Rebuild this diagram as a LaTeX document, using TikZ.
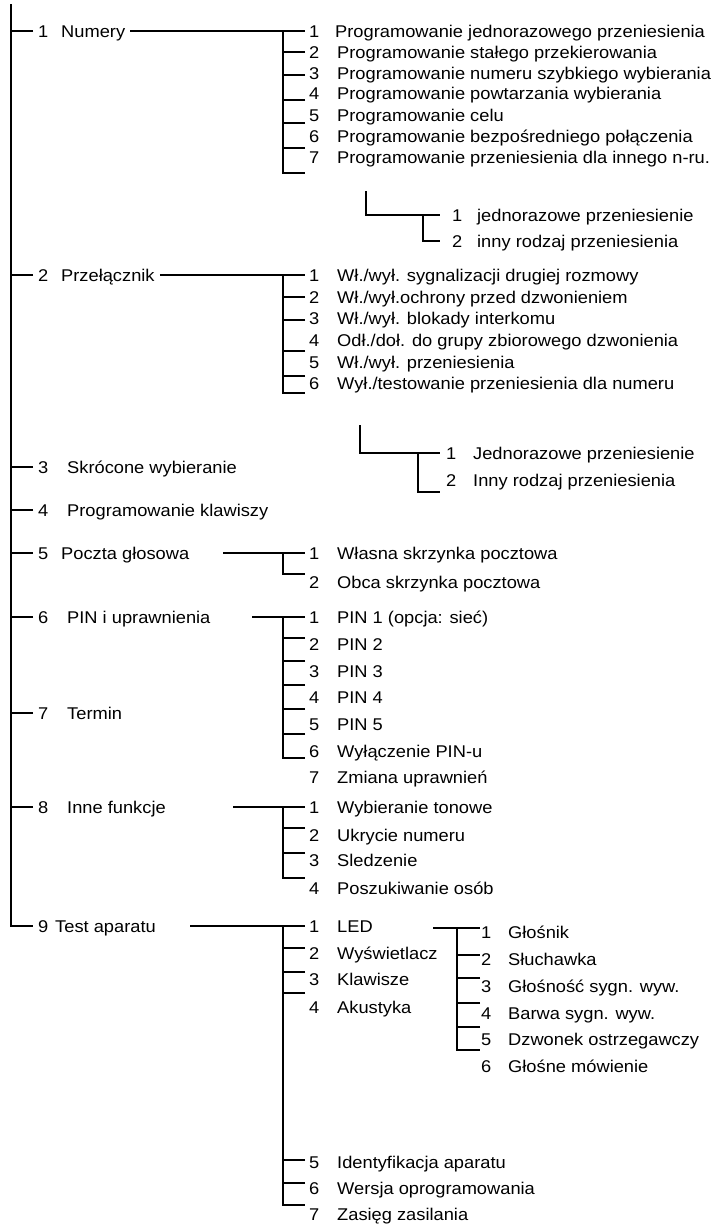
\documentclass[tikz,border=0pt]{standalone}
\usepackage{fontspec}
\setmainfont{Liberation Sans}[FakeStretch=1.075]
\usepackage{tikz}

\tikzset{
  lbl/.style={anchor=west, inner xsep=4pt, inner ysep=0pt, text height=12pt, text depth=0pt,
    font=\fontsize{17pt}{20pt}\selectfont},
  tree/.style={line width=1.8pt}
}

\begin{document}
\begin{tikzpicture}[x=1pt,y=-1pt]
    \useasboundingbox (0,0) rectangle (718,1224);

    % main menu
    \coordinate (top) at (11,4);
    \node[lbl,inner xsep=5pt] (m1) at (33,31) {\makebox[23pt][l]{1}Numery};
    \node[lbl,inner xsep=5pt] (m2) at (33,275) {\makebox[23pt][l]{2}Przełącznik};
    \node[lbl,inner xsep=5pt] (m3) at (33,467) {\makebox[29pt][l]{3}Skrócone wybieranie};
    \node[lbl,inner xsep=5pt] (m4) at (33,510) {\makebox[29pt][l]{4}Programowanie klawiszy};
    \node[lbl,inner xsep=5pt] (m5) at (33,553) {\makebox[23pt][l]{5}Poczta głosowa};
    \node[lbl,inner xsep=5pt] (m6) at (33,617) {\makebox[29pt][l]{6}PIN i uprawnienia};
    \node[lbl,inner xsep=5pt] (m7) at (33,713) {\makebox[29pt][l]{7}Termin};
    \node[lbl,inner xsep=5pt] (m8) at (33,807) {\makebox[29pt][l]{8}Inne funkcje};
    \node[lbl,inner xsep=5pt] (m9) at (33,926) {\makebox[17pt][l]{9}Test aparatu};
    \draw[tree] (top) |- (m9.west);
    \draw[tree] (m1.west) -- ++(-22,0);
    \draw[tree] (m2.west) -- ++(-22,0);
    \draw[tree] (m3.west) -- ++(-22,0);
    \draw[tree] (m4.west) -- ++(-22,0);
    \draw[tree] (m5.west) -- ++(-22,0);
    \draw[tree] (m6.west) -- ++(-22,0);
    \draw[tree] (m7.west) -- ++(-22,0);
    \draw[tree] (m8.west) -- ++(-22,0);

    % 1 Numery
    \node[lbl] (a1) at (305,31) {\makebox[26pt][l]{1}Programowanie jednorazowego przeniesienia};
    \node[lbl] (a2) at (305,52) {\makebox[28pt][l]{2}Programowanie stałego przekierowania};
    \node[lbl] (a3) at (305,73) {\makebox[28pt][l]{3}Programowanie numeru szybkiego wybierania};
    \node[lbl] (a4) at (305,93) {\makebox[28pt][l]{4}Programowanie powtarzania wybierania};
    \node[lbl] (a5) at (305,115) {\makebox[28pt][l]{5}Programowanie celu};
    \node[lbl] (a6) at (305,136) {\makebox[28pt][l]{6}Programowanie bezpośredniego połączenia};
    \node[lbl] (a7) at (305,157) {\makebox[28pt][l]{7}Programowanie przeniesienia dla innego n-ru.};
    \draw[tree] (m1.east) -- (a1.west);
    \draw[tree] ([xshift=-22pt]a1.west) |- ([yshift=-16pt]a7.west);
    \draw[tree] (a2.west) -- ++(-22,0);
    \draw[tree] ([yshift=-2pt]a3.west) -- ++(-22,0);
    \draw[tree] ([yshift=-7pt]a4.west) -- ++(-22,0);
    \draw[tree] ([yshift=-8pt]a5.west) -- ++(-22,0);
    \draw[tree] ([yshift=-12pt]a6.west) -- ++(-22,0);

    \coordinate (aa0) at (366,191);
    \node[lbl,inner xsep=12pt] (aa1) at (440,215) {\makebox[25pt][l]{1}jednorazowe przeniesienie};
    \node[lbl,inner xsep=12pt] (aa2) at (440,241) {\makebox[25pt][l]{2}inny rodzaj przeniesienia};
    \draw[tree] (aa0) |- (aa1.west);
    \draw[tree] ([xshift=-17pt]aa1.west) |- (aa2.west);

    % 2 Przelacznik
    \node[lbl] (b1) at (305,275) {\makebox[28pt][l]{1}Wł./wył. sygnalizacji drugiej rozmowy};
    \node[lbl] (b2) at (305,297) {\makebox[28pt][l]{2}Wł./wył.ochrony przed dzwonieniem};
    \node[lbl] (b3) at (305,318) {\makebox[28pt][l]{3}Wł./wył. blokady interkomu};
    \node[lbl] (b4) at (305,340) {\makebox[28pt][l]{4}Odł./doł. do grupy zbiorowego dzwonienia};
    \node[lbl] (b5) at (305,362) {\makebox[28pt][l]{5}Wł./wył. przeniesienia};
    \node[lbl] (b6) at (305,383) {\makebox[28pt][l]{6}Wył./testowanie przeniesienia dla numeru};
    \draw[tree] (m2.east) -- (b1.west);
    \draw[tree] ([xshift=-22pt]b1.west) |- ([yshift=-10pt]b6.west);
    \draw[tree] (b2.west) -- ++(-22,0);
    \draw[tree] ([yshift=-2pt]b3.west) -- ++(-22,0);
    \draw[tree] ([yshift=-11pt]b4.west) -- ++(-22,0);
    \draw[tree] ([yshift=-14pt]b5.west) -- ++(-22,0);

    \coordinate (bb0) at (360,425);
    \node[lbl,inner xsep=6pt] (bb1) at (440,453) {\makebox[27pt][l]{1}Jednorazowe przeniesienie};
    \node[lbl,inner xsep=6pt] (bb2) at (440,480) {\makebox[27pt][l]{2}Inny rodzaj przeniesienia};
    \draw[tree] (bb0) |- (bb1.west);
    \draw[tree] ([xshift=-22pt]bb1.west) |- ([yshift=-12pt]bb2.west);

    % 5 Poczta glosowa
    \coordinate (s5) at (223,553);
    \node[lbl] (c1) at (305,553) {\makebox[28pt][l]{1}Własna skrzynka pocztowa};
    \node[lbl] (c2) at (305,582) {\makebox[28pt][l]{2}Obca skrzynka pocztowa};
    \draw[tree] (s5) -- (c1.west);
    \draw[tree] ([xshift=-22pt]c1.west) |- ([yshift=8pt]c2.west);

    % 6 PIN i uprawnienia
    \coordinate (s6) at (252,617);
    \node[lbl] (d1) at (305,617) {\makebox[28pt][l]{1}PIN 1 (opcja: sieć)};
    \node[lbl] (d2) at (305,644) {\makebox[28pt][l]{2}PIN 2};
    \node[lbl] (d3) at (305,671) {\makebox[28pt][l]{3}PIN 3};
    \node[lbl] (d4) at (305,697) {\makebox[28pt][l]{4}PIN 4};
    \node[lbl] (d5) at (305,724) {\makebox[28pt][l]{5}PIN 5};
    \node[lbl] (d6) at (305,751) {\makebox[28pt][l]{6}Wyłączenie PIN-u};
    \node[lbl] (d7) at (305,777) {\makebox[28pt][l]{7}Zmiana uprawnień};
    \draw[tree] (s6) -- (d1.west);
    \draw[tree] ([xshift=-22pt]d1.west) |- ([yshift=-7pt]d6.west);
    \draw[tree] ([yshift=6pt]d2.west) -- ++(-22,0);
    \draw[tree] ([yshift=10pt]d3.west) -- ++(-22,0);
    \draw[tree] ([yshift=12pt]d4.west) -- ++(-22,0);
    \draw[tree] ([yshift=15pt]d5.west) -- ++(-22,0);
    \draw[tree] ([yshift=17pt]d6.west) -- ++(-22,0);

    % 8 Inne funkcje
    \coordinate (s8) at (233,807);
    \node[lbl] (e1) at (305,807) {\makebox[28pt][l]{1}Wybieranie tonowe};
    \node[lbl] (e2) at (305,835) {\makebox[28pt][l]{2}Ukrycie numeru};
    \node[lbl] (e3) at (305,860) {\makebox[28pt][l]{3}Sledzenie};
    \node[lbl] (e4) at (305,888) {\makebox[28pt][l]{4}Poszukiwanie osób};
    \draw[tree] (s8) -- (e1.west);
    \draw[tree] ([xshift=-22pt]e1.west) |- ([yshift=10pt]e4.west);
    \draw[tree] ([yshift=7pt]e2.west) -- ++(-22,0);
    \draw[tree] ([yshift=7pt]e3.west) -- ++(-22,0);

    % 9 Test aparatu
    \coordinate (s9) at (190,926);
    \node[lbl] (f1) at (305,926) {\makebox[28pt][l]{1}LED};
    \node[lbl] (f2) at (305,953) {\makebox[28pt][l]{2}Wyświetlacz};
    \node[lbl] (f3) at (305,979) {\makebox[28pt][l]{3}Klawisze};
    \node[lbl] (f4) at (305,1007) {\makebox[28pt][l]{4}Akustyka};
    \node[lbl] (f5) at (305,1162) {\makebox[28pt][l]{5}Identyfikacja aparatu};
    \node[lbl] (f6) at (305,1188) {\makebox[28pt][l]{6}Wersja oprogramowania};
    \node[lbl] (f7) at (305,1214) {\makebox[28pt][l]{7}Zasięg zasilania};
    \draw[tree] (s9) -- (f1.west);
    \draw[tree] ([xshift=-22pt]f1.west) |- ([yshift=9pt]f7.west);
    \draw[tree] ([yshift=5pt]f2.west) -- ++(-22,0);
    \draw[tree] ([yshift=7pt]f3.west) -- ++(-22,0);
    \draw[tree] ([yshift=14pt]f4.west) -- ++(-22,0);
    \draw[tree] ([yshift=2pt]f5.west) -- ++(-22,0);
    \draw[tree] ([yshift=5pt]f6.west) -- ++(-22,0);

    % 4 Akustyka
    \coordinate (sg) at (433,928);
    \node[lbl,inner xsep=1pt] (g1) at (480,932) {\makebox[27pt][l]{1}Głośnik};
    \node[lbl,inner xsep=1pt] (g2) at (480,959) {\makebox[27pt][l]{2}Słuchawka};
    \node[lbl,inner xsep=1pt] (g3) at (480,986) {\makebox[27pt][l]{3}Głośność sygn. wyw.};
    \node[lbl,inner xsep=1pt] (g4) at (480,1013) {\makebox[27pt][l]{4}Barwa sygn. wyw.};
    \node[lbl,inner xsep=1pt] (g5) at (480,1039) {\makebox[27pt][l]{5}Dzwonek ostrzegawczy};
    \node[lbl,inner xsep=1pt] (g6) at (480,1066) {\makebox[27pt][l]{6}Głośne mówienie};
    \draw[tree] (sg) -- ([yshift=4pt]g1.west);
    \draw[tree] ([xshift=-23pt,yshift=4pt]g1.west) |- ([yshift=-11pt]g5.west);
    \draw[tree] ([yshift=4pt]g2.west) -- ++(-23,0);
    \draw[tree] ([yshift=8pt]g3.west) -- ++(-23,0);
    \draw[tree] ([yshift=10pt]g4.west) -- ++(-23,0);
    \draw[tree] ([yshift=12pt]g5.west) -- ++(-23,0);
\end{tikzpicture}
\end{document}
